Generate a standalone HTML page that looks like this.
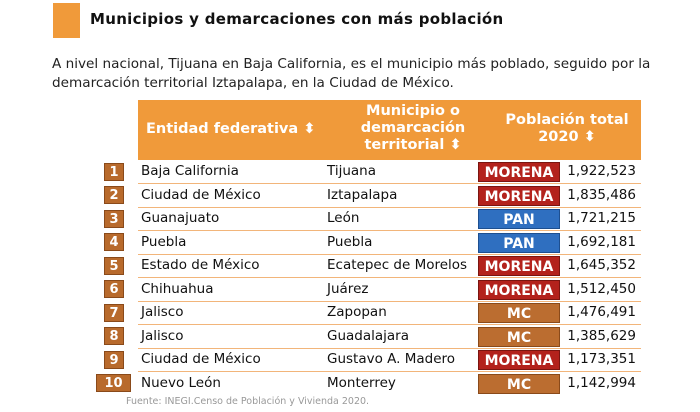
<!DOCTYPE html>
<html><head><meta charset="utf-8"><style>
body{margin:0;width:700px;height:412px;background:#fff;font-family:Verdana,"DejaVu Sans",sans-serif;position:relative;overflow:hidden;color:#111}
.a{position:absolute}
.sq{left:53px;top:3px;width:27px;height:35px;background:#f09a3a}
.title{left:90px;top:10px;font-weight:bold;font-size:15px;letter-spacing:0.3px;color:#111}
.p{left:52px;top:55px;font-size:13.6px;line-height:19px;width:640px;color:#222}
.hdr{left:138px;top:100px;width:503px;height:60px;background:#f09a3a;color:#fff;font-weight:bold;font-size:14.5px}
.hdr div{position:absolute;text-align:center;line-height:17px}
.row{left:138px;width:503px;height:23px;border-bottom:1.5px solid #f2b57a;font-size:13.5px}
.row span{position:absolute;top:3px}
.rk{width:20px;height:18px;background:#b86a2c;color:#fff;font-weight:bold;font-size:13px;text-align:center;line-height:18px;border:1px solid #8a4a1a;box-sizing:border-box}
.bd{position:absolute;left:340px;top:2px;width:82px;height:20px;color:#fff;font-weight:bold;font-size:14px;text-align:center;line-height:20px;box-sizing:border-box;font-family:"DejaVu Sans",sans-serif}
.M{background:#b3221c;border:1px solid #7a1510}
.P{background:#2f6fc0;border:1px solid #1d4f90}
.C{background:#bb6d30;border:1px solid #8a4a1a}
.n{right:5px}
.src{left:126px;top:396px;font-size:9.5px;color:#999}
</style></head><body>
<div class="a sq"></div>
<div class="a title">Municipios y demarcaciones con más población</div>
<div class="a p">A nivel nacional, Tijuana en Baja California, es el municipio más poblado, seguido por la demarcación territorial Iztapalapa, en la Ciudad de México.</div>
<div class="a hdr">
<div style="left:8px;top:21px">Entidad federativa ⬍</div>
<div style="left:200px;top:3px;width:150px">Municipio o demarcación territorial ⬍</div>
<div style="left:355px;top:12px;width:148px">Población total 2020 ⬍</div>
</div>

<div class="a row" style="top:160px"><span style="left:3px">Baja California</span><span style="left:189px">Tijuana</span><div class="bd M">MORENA</div><span class="n">1,922,523</span></div>
<div class="a row" style="top:183.5px"><span style="left:3px">Ciudad de México</span><span style="left:189px">Iztapalapa</span><div class="bd M">MORENA</div><span class="n">1,835,486</span></div>
<div class="a row" style="top:207px"><span style="left:3px">Guanajuato</span><span style="left:189px">León</span><div class="bd P">PAN</div><span class="n">1,721,215</span></div>
<div class="a row" style="top:230.5px"><span style="left:3px">Puebla</span><span style="left:189px">Puebla</span><div class="bd P">PAN</div><span class="n">1,692,181</span></div>
<div class="a row" style="top:254px"><span style="left:3px">Estado de México</span><span style="left:189px">Ecatepec de Morelos</span><div class="bd M">MORENA</div><span class="n">1,645,352</span></div>
<div class="a row" style="top:277.5px"><span style="left:3px">Chihuahua</span><span style="left:189px">Juárez</span><div class="bd M">MORENA</div><span class="n">1,512,450</span></div>
<div class="a row" style="top:301px"><span style="left:3px">Jalisco</span><span style="left:189px">Zapopan</span><div class="bd C">MC</div><span class="n">1,476,491</span></div>
<div class="a row" style="top:324.5px"><span style="left:3px">Jalisco</span><span style="left:189px">Guadalajara</span><div class="bd C">MC</div><span class="n">1,385,629</span></div>
<div class="a row" style="top:348px"><span style="left:3px">Ciudad de México</span><span style="left:189px">Gustavo A. Madero</span><div class="bd M">MORENA</div><span class="n">1,173,351</span></div>
<div class="a row" style="top:371.5px;border-bottom:none"><span style="left:3px">Nuevo León</span><span style="left:189px">Monterrey</span><div class="bd C">MC</div><span class="n">1,142,994</span></div>

<div class="a rk" style="left:104px;top:163px">1</div>
<div class="a rk" style="left:104px;top:186px">2</div>
<div class="a rk" style="left:104px;top:210px">3</div>
<div class="a rk" style="left:104px;top:233px">4</div>
<div class="a rk" style="left:104px;top:257px">5</div>
<div class="a rk" style="left:104px;top:280px">6</div>
<div class="a rk" style="left:104px;top:304px">7</div>
<div class="a rk" style="left:104px;top:327px">8</div>
<div class="a rk" style="left:104px;top:351px">9</div>
<div class="a rk" style="left:96px;top:374px;width:35px">10</div>

<div class="a src">Fuente: INEGI.Censo de Población y Vivienda 2020.</div>
</body></html>
